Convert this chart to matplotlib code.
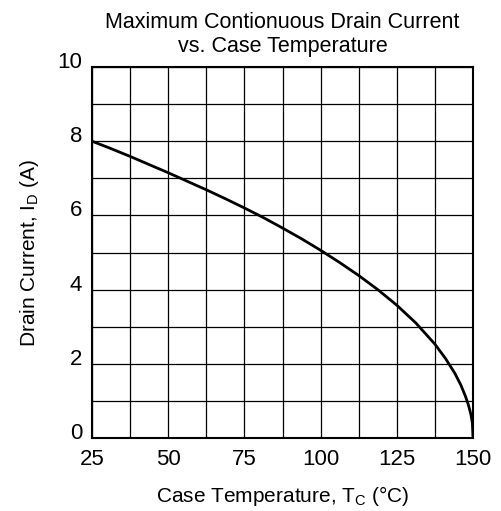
import matplotlib.pyplot as plt
from matplotlib.ticker import MultipleLocator
from matplotlib.transforms import ScaledTranslation

plt.rcParams['font.family'] = ['Liberation Sans', 'DejaVu Sans']

# Values
temp_c = [25, 31.25, 37.5, 43.75, 50, 56.25, 62.5, 68.75, 75, 81.25, 87.5, 93.75,
          100, 106.25, 112.5, 118.75, 125, 131.25, 137.5, 141, 144, 146, 147.5,
          148.5, 149.3, 149.8, 150]
drain_a = [8.0, 7.8, 7.59, 7.37, 7.15, 6.92, 6.69, 6.45, 6.2, 5.94, 5.66, 5.37,
           5.06, 4.73, 4.38, 4.0, 3.58, 3.1, 2.53, 2.14, 1.75, 1.43, 1.13,
           0.89, 0.64, 0.4, 0.0]

x_ticks = [25, 50, 75, 100, 125, 150]
y_ticks = [0, 2, 4, 6, 8, 10]

fig = plt.figure(figsize=(5.02, 5.11), dpi=100)
ax = fig.add_axes([92 / 502, 1 - 438 / 511, 381 / 502, 371 / 511])

ax.plot(temp_c, drain_a, color='black', linewidth=2.0, solid_capstyle='butt', zorder=3)

ax.set_xlim(25, 150)
ax.set_ylim(0, 10)
ax.set_xticks(x_ticks)
ax.set_yticks(y_ticks)
ax.xaxis.set_minor_locator(MultipleLocator(12.5))
ax.yaxis.set_minor_locator(MultipleLocator(1))
ax.grid(True, which='both', color='black', linewidth=0.9)
ax.tick_params(which='both', length=0, labelsize=16)
ax.tick_params(axis='x', pad=8)
ax.tick_params(axis='y', pad=7)
for s in ax.spines.values():
    s.set_linewidth(1.5)

# y labels sit a little above their gridline in the reference
for lbl in ax.get_yticklabels():
    lbl.set_transform(lbl.get_transform() + ScaledTranslation(0, 0.07, fig.dpi_scale_trans))

ax.set_xlabel('Case Temperature, T$_\\mathregular{C}$ (°C)', fontsize=15, labelpad=10)
ax.set_ylabel('Drain Current, I$_\\mathregular{D}$ (A)', fontsize=15, labelpad=12)
ax.set_title('Maximum Contionuous Drain Current\nvs. Case Temperature', fontsize=15.5,
             linespacing=1.2, pad=11)

fig.savefig('out.png', dpi=100)
